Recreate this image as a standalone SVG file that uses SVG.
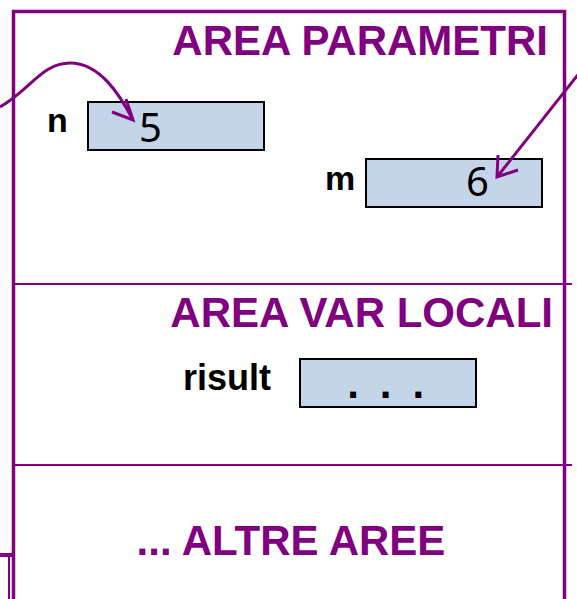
<svg xmlns="http://www.w3.org/2000/svg" width="577" height="599" viewBox="0 0 577 599">
<style>
.frame{stroke:#800080;fill:none}
.title{font-family:"Liberation Sans",Arial,sans-serif;font-weight:bold;font-size:42px;fill:#800080}
.lbl{font-family:"Liberation Sans",Arial,sans-serif;font-weight:bold;font-size:34px;fill:#000}
.box{fill:#c5d5e9;stroke:#000;stroke-width:2}
.val{font-family:"Noto Sans","DejaVu Sans",sans-serif;font-size:40px;fill:#000}
.conn{stroke:#800080;stroke-width:3;fill:none}
</style>
<g id="frame">
<path class="frame" stroke-width="3.5" d="M13.5,599 V11.5 H564.5 V599"/>
<line class="frame" stroke-width="2" x1="13" y1="284" x2="572" y2="284"/>
<line class="frame" stroke-width="2" x1="13" y1="465" x2="572" y2="465"/>
<path class="frame" stroke-width="4" d="M0,555 H15"/>
<line class="frame" stroke-width="2" x1="9" y1="555" x2="9" y2="599"/>
</g>
<g id="area-parametri">
<text class="title" x="548" y="55" text-anchor="end">AREA PARAMETRI</text>
</g>
<g id="param-n">
<text class="lbl" x="47" y="132">n</text>
<rect class="box" x="88" y="102" width="176" height="48"/>
<text class="val" x="139" y="142">5</text>
</g>
<g id="param-m">
<text class="lbl" x="325" y="190">m</text>
<rect class="box" x="366" y="159" width="176" height="48"/>
<text class="val" x="466" y="196">6</text>
</g>
<g id="area-var-locali">
<text class="title" x="553" y="327" text-anchor="end">AREA VAR LOCALI</text>
</g>
<g id="var-risult">
<text class="lbl" x="183" y="390" style="font-size:36px">risult</text>
<rect class="box" x="300" y="359" width="176" height="48"/>
<text x="388" y="398" text-anchor="middle" font-family="Liberation Sans, Arial, sans-serif" font-weight="bold" font-size="42" letter-spacing="4.6" fill="#000">. . .</text>
</g>
<g id="altre-aree">
<text class="title" x="291" y="555" text-anchor="middle">... ALTRE AREE</text>
</g>
<g id="connectors">
<path class="conn" d="M0,107 C30,90 42,63 70,63 C100,63 120,95 133,120"/>
<line class="conn" x1="580" y1="72" x2="497" y2="177"/>
<path class="conn" stroke-width="3.5" d="M112,112 L133,120 L126,99"/>
<path class="conn" stroke-width="3.5" d="M498,155 L497,177 L518,170"/>
</g>
</svg>
